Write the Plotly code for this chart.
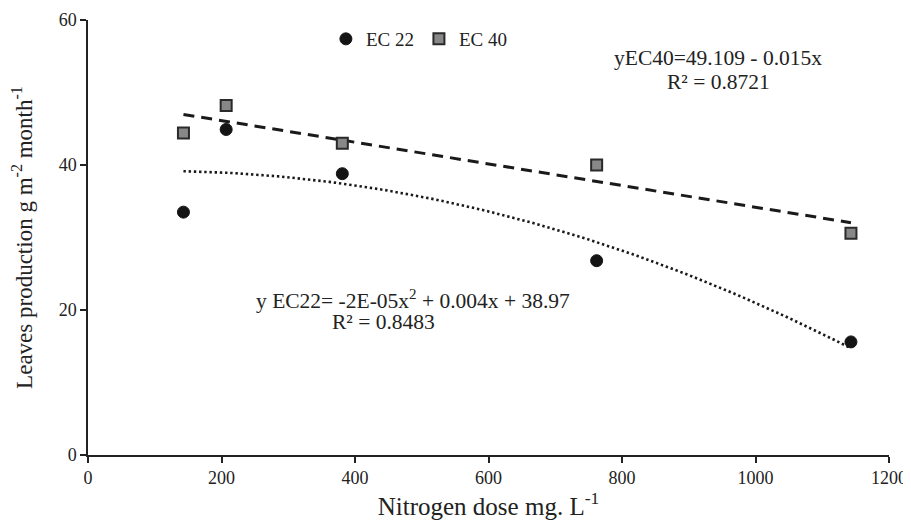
import numpy as np
import plotly.graph_objects as go

# Data
nitrogen_dose = [143, 207, 381, 762, 1143]
ec22_values = [33.5, 44.9, 38.8, 26.8, 15.6]
ec40_values = [44.4, 48.2, 43.0, 40.0, 30.6]

x_ticks = [0, 200, 400, 600, 800, 1000, 1200]
y_ticks = [0, 20, 40, 60]

FONT = "Liberation Serif"
INK = "#222222"

# Trendlines fitted to the data (linear for EC 40, quadratic for EC 22)
xs = np.linspace(min(nitrogen_dose), max(nitrogen_dose), 120)
lin = np.polyfit(nitrogen_dose, ec40_values, 1)
quad = np.polyfit(nitrogen_dose, ec22_values, 2)

fig = go.Figure()

fig.add_trace(go.Scatter(
    x=xs, y=np.polyval(lin, xs), mode="lines", showlegend=False,
    line=dict(color="#1a1a1a", width=3, dash="11px,7px"), hoverinfo="skip"))
fig.add_trace(go.Scatter(
    x=xs, y=np.polyval(quad, xs), mode="lines", showlegend=False,
    line=dict(color="#1a1a1a", width=2.6, dash="2.4px,2.8px"), hoverinfo="skip"))

fig.add_trace(go.Scatter(
    x=nitrogen_dose, y=ec22_values, mode="markers", name="EC 22",
    marker=dict(symbol="circle", size=12, color="#141414",
                line=dict(color="#141414", width=1))))
fig.add_trace(go.Scatter(
    x=nitrogen_dose, y=ec40_values, mode="markers", name="EC 40",
    marker=dict(symbol="square", size=11, color="#888888",
                line=dict(color="#2a2a2a", width=2))))

ann_font = dict(family=FONT, size=21.5, color=INK)
fig.add_annotation(x=944, y=54.8, text="yEC40=49.109 - 0.015x", showarrow=False, font=ann_font)
fig.add_annotation(x=944, y=51.5, text="R² = 0.8721", showarrow=False, font=ann_font)
fig.add_annotation(x=487, y=21.4, text="y EC22= -2E-05x<sup>2</sup> + 0.004x + 38.97", showarrow=False, font=ann_font)
fig.add_annotation(x=442, y=18.3, text="R² = 0.8483", showarrow=False, font=ann_font)

axis_common = dict(
    showline=True, linecolor=INK, linewidth=1.5,
    ticks="outside", ticklen=6, tickwidth=1.5, tickcolor=INK,
    showgrid=False, zeroline=False, automargin=False,
    tickfont=dict(family=FONT, size=18, color=INK),
)

# the page body adds an 8px offset, so margins are reduced accordingly
fig.update_layout(
    width=911, height=526,
    margin=dict(l=80, r=30, t=12, b=79),
    paper_bgcolor="white", plot_bgcolor="white",
    font=dict(family=FONT, color=INK),
    xaxis=dict(range=[0, 1200], tickvals=x_ticks, **axis_common,
               title=dict(text="Nitrogen dose mg. L<sup>-1</sup>", standoff=10,
                          font=dict(family=FONT, size=25, color=INK))),
    yaxis=dict(range=[0, 60], tickvals=y_ticks, **axis_common,
               title=dict(text="Leaves production g m<sup>-2</sup> month<sup>-1</sup>", standoff=20,
                          font=dict(family=FONT, size=23, color=INK))),
    legend=dict(orientation="h", x=0.297, y=1.0, xanchor="left", yanchor="top",
                font=dict(family=FONT, size=19, color=INK),
                itemwidth=30, bgcolor="rgba(0,0,0,0)", tracegroupgap=0),
)

fig.write_html("out.html")
